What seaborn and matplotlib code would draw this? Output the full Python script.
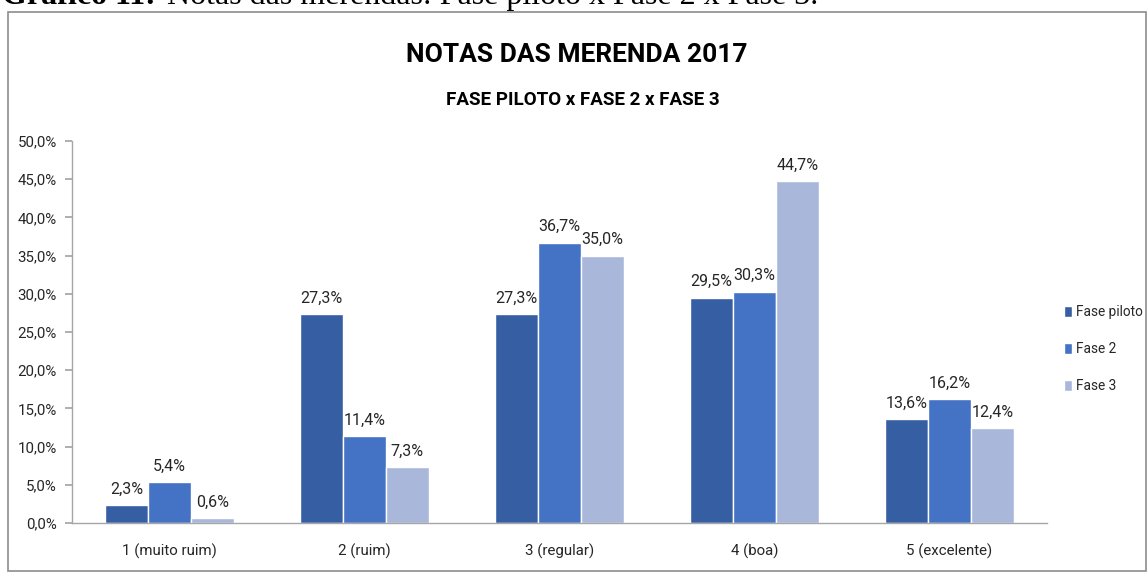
import matplotlib
matplotlib.use("Agg")
import matplotlib.pyplot as plt
import seaborn as sns
import pandas as pd
from matplotlib.patches import Rectangle

categories = ["1 (muito ruim)", "2 (ruim)", "3 (regular)", "4 (boa)", "5 (excelente)"]
series = ["Fase piloto", "Fase 2", "Fase 3"]
fase_piloto = [2.3, 27.3, 27.3, 29.5, 13.6]
fase_2 = [5.4, 11.4, 36.7, 30.3, 16.2]
fase_3 = [0.6, 7.3, 35.0, 44.7, 12.4]
colors = ["#365FA3", "#4472C4", "#A9B7DA"]
yticks = [0, 5, 10, 15, 20, 25, 30, 35, 40, 45, 50]

rows = []
for s, vals in zip(series, [fase_piloto, fase_2, fase_3]):
    for c, v in zip(categories, vals):
        rows.append({"cat": c, "serie": s, "val": v})
df = pd.DataFrame(rows)

sns.set_theme(style="white")
font = "Roboto"
plt.rcParams["font.family"] = [font, "DejaVu Sans"]

fig = plt.figure(figsize=(11.48, 5.72), dpi=100)
W, H = 1148, 572

# outer frame
fig.patches.append(Rectangle((8 / W, 1 / H), (W - 10) / W, (H - 13) / H,
                             transform=fig.transFigure, fill=False,
                             edgecolor="#8C8C8C", linewidth=1.2))

# caption (cut off at top, as in the reference)
fig.text(2 / W, 1 - 4 / H, "Gráfico 11:", family="Liberation Serif", fontweight="bold",
         fontsize=23, va="baseline", ha="left", color="black")
fig.text(167 / W, 1 - 4 / H, "Notas das merendas: Fase piloto x Fase 2 x Fase 3.",
         family="Liberation Serif", fontsize=23, va="baseline", ha="left", color="black")

ax = fig.add_axes([72 / W, 49 / H, 975 / W, 382 / H])
sns.barplot(data=df, x="cat", y="val", hue="serie", palette=colors, width=0.66,
            gap=0, saturation=1, ax=ax, legend=True)

for cont in ax.containers:
    ax.bar_label(cont, labels=[f"{b.get_height():.1f}%".replace(".", ",") for b in cont],
                 padding=6, fontsize=11.5, color="#262626")

ax.set_ylim(0, 50)
ax.set_yticks(yticks)
ax.set_yticklabels([f"{t:.1f}%".replace(".", ",") for t in yticks], fontsize=10.8, color="#262626")
ax.set_xlim(-0.5, 4.5)
ax.set_xticks(range(5))
ax.set_xticklabels(categories, fontsize=10.8, color="#262626")
ax.tick_params(axis="x", length=0, pad=15)
ax.set_xticks([i + 0.5 for i in range(-1, 5)], minor=True)
ax.tick_params(axis="x", which="minor", length=6, color="#A6A6A6", direction="out")
ax.tick_params(axis="y", length=5, color="#A6A6A6", direction="out", left=True, pad=6)
ax.set_xlabel("")
ax.set_ylabel("")
for s in ["top", "right"]:
    ax.spines[s].set_visible(False)
for s in ["left", "bottom"]:
    ax.spines[s].set_color("#A6A6A6")
    ax.spines[s].set_linewidth(1)

leg = ax.legend(loc="center left", bbox_to_anchor=(1064 / W, (H - 349) / H),
                bbox_transform=fig.transFigure, frameon=False,
                fontsize=9.8, handlelength=0.6, handleheight=0.85, handletextpad=0.3,
                labelspacing=1.7, borderaxespad=0, borderpad=0)
for t in leg.get_texts():
    t.set_color("#262626")

fig.text(577 / W, 1 - 55 / H, "NOTAS DAS MERENDA 2017", ha="center", va="center",
         fontsize=19, fontweight="bold", color="black")
fig.text(583 / W, 1 - 100 / H, "FASE PILOTO x FASE 2 x FASE 3", ha="center", va="center",
         fontsize=13.5, fontweight="bold", color="black")

fig.savefig("out.png", dpi=100)
